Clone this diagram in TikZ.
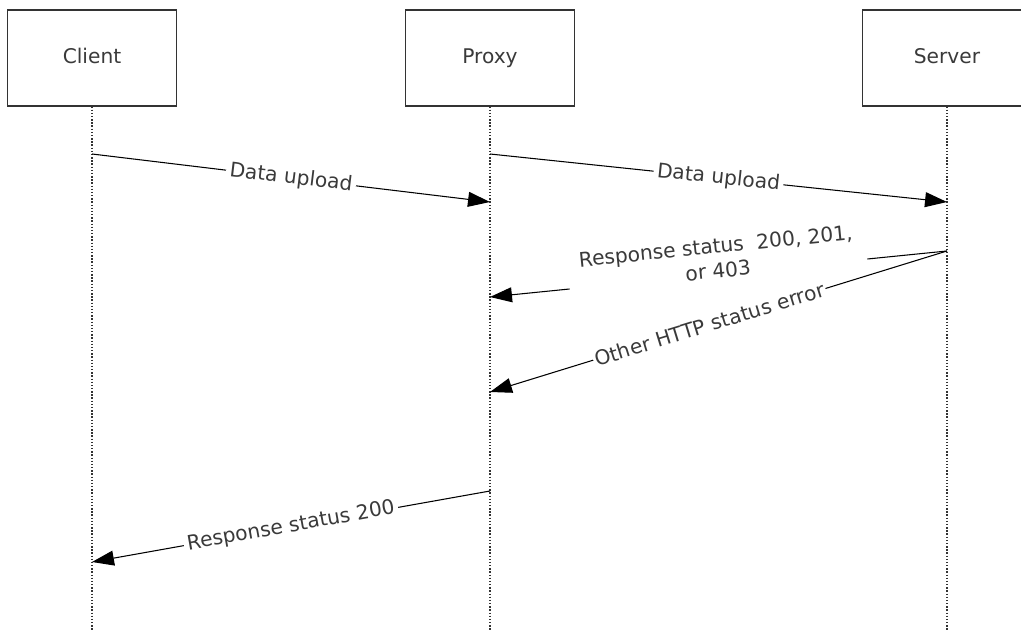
\documentclass[tikz,border=0pt]{standalone}
\usepackage{fontspec}
\setmainfont{DejaVu Sans}
\usetikzlibrary{arrows.meta}
\definecolor{txtgray}{HTML}{3A3A3A}

\begin{document}
\begin{tikzpicture}[x=0.02cm, y=-0.02cm,
    font=\fontsize{11.5}{14}\selectfont, text=txtgray,
    actor/.style={draw=black!80, line width=0.6pt, minimum width=169*0.02cm, minimum height=96*0.02cm,
        text height=1.6ex, text depth=0.4ex},
    lifeline/.style={densely dotted, line width=0.8pt, black!80},
    msg/.style={-{Triangle[length=12.5pt,width=8.5pt]}, line width=0.6pt},
    lbl/.style={sloped, fill=white, inner sep=2pt, align=center}]

    \useasboundingbox (0,0) rectangle (1021,631);

    % nodes (actors)
    \node[actor] (client) at (92,58) {Client};
    \node[actor] (proxy) at (490,58) {Proxy};
    \node[actor] (server) at (947,58) {Server};

    % lifelines
    \coordinate (cend) at (92,631);
    \coordinate (pend) at (490,631);
    \coordinate (send) at (947,631);
    \draw[lifeline] (client.south) -- (cend);
    \draw[lifeline] (proxy.south) -- (pend);
    \draw[lifeline] (server.south) -- (send);

    % message points
    \coordinate (c1) at (92,154);
    \coordinate (p1) at (490,202);
    \coordinate (p2) at (490,154);
    \coordinate (s2) at (947,202);
    \coordinate (s3) at (947,251);
    \coordinate (p3) at (490,297);
    \coordinate (p4) at (490,392);
    \coordinate (p5) at (490,491);
    \coordinate (c5) at (92,562);

    % edges
    \draw[msg] (c1) -- node[lbl, pos=0.5] {Data upload} (p1); % client -> proxy
    \draw[msg] (p2) -- node[lbl, pos=0.5] {Data upload} (s2); % proxy -> server
    \draw[msg] (s3) -- node[lbl, pos=0.5, inner xsep=7pt, yshift=9pt] {Response status\ \ 200, 201,\\or 403} (p3); % server -> proxy
    \draw[msg] (s3) -- node[lbl, pos=0.52, inner sep=1pt] {Other HTTP status error} (p4); % server -> proxy
    \draw[msg] (p5) -- node[lbl, pos=0.5] {Response status 200} (c5); % proxy -> client

\end{tikzpicture}
\end{document}
